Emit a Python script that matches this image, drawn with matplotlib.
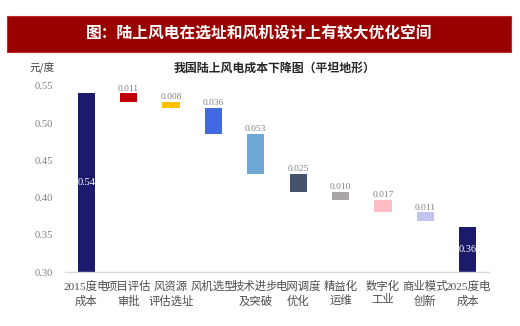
import matplotlib
matplotlib.use("Agg")
import matplotlib.pyplot as plt
from matplotlib.patches import Rectangle

# ---- data ----
categories = ["2015度电\n成本", "项目评估\n审批", "风资源\n评估选址", "风机选型", "技术进步\n及突破",
              "电网调度\n优化", "精益化\n运维", "数字化\n工业", "商业模式\n创新", "2025度电\n成本"]
start_value = 0.54
deltas = [0.011, 0.008, 0.036, 0.053, 0.025, 0.010, 0.017, 0.011]
delta_labels = ["0.011", "0.008", "0.036", "0.053", "0.025", "0.010", "0.017", "0.011"]
end_value = 0.36
yticks = [0.30, 0.35, 0.40, 0.45, 0.50, 0.55]
colors = ["#1c1a6b", "#c00000", "#ffc000", "#4169e1", "#6fa8d4", "#44546a",
          "#aaa6a6", "#ffbcc4", "#c3c3f2", "#1c1a6b"]

FONT = ["Liberation Serif", "Noto Sans CJK SC", "DejaVu Sans"]
CJK = ["Noto Sans CJK SC", "DejaVu Sans"]
plt.rcParams["font.family"] = FONT

fig = plt.figure(figsize=(5.2, 3.26), dpi=100)
fig.patch.set_facecolor("white")

# title banner
fig.patches.append(Rectangle((7 / 520, 1 - 52 / 326), 504 / 520, 36 / 326,
                             transform=fig.transFigure, facecolor="#990000",
                             edgecolor="#c0282d", linewidth=0.8))
fig.text(259 / 520, 1 - 34 / 326, "图：陆上风电在选址和风机设计上有较大优化空间",
         color="white", fontsize=11.3, fontweight="bold", ha="center", va="center",
         family=CJK)
fig.text(275 / 520, 1 - 68 / 326, "我国陆上风电成本下降图（平坦地形）",
         color="#262626", fontsize=8.6, fontweight="bold", ha="center", va="center",
         family=CJK)
fig.text(42 / 520, 1 - 68 / 326, "元/度", color="#404040", fontsize=7.6,
         ha="center", va="center", family=CJK)

ax = fig.add_axes([65 / 520, 1 - 272 / 326, 424 / 520, 186 / 326])
ax.set_xlim(-0.5, len(categories) - 0.5)
ax.set_ylim(0.30, 0.55)

x = list(range(len(categories)))
width = 0.41
base = 0.30

# first bar
ax.bar(x[0], start_value - base, bottom=base, width=width, color=colors[0])
ax.text(x[0], (start_value + base) / 2, f"{start_value:.2f}", color="white",
        ha="center", va="center", fontsize=7.4)

top = start_value
for i, d in enumerate(deltas):
    xi = x[i + 1]
    ax.bar(xi, d, bottom=top - d, width=width, color=colors[i + 1])
    ax.text(xi, top + 0.0012, delta_labels[i], color="#7f7f7f", ha="center",
            va="bottom", fontsize=6.8)
    top -= d

ax.bar(x[-1], end_value - base, bottom=base, width=width, color=colors[-1])
ax.text(x[-1], (end_value + base) / 2, f"{end_value:.2f}", color="white",
        ha="center", va="center", fontsize=7.4)

ax.set_yticks(yticks)
ax.set_yticklabels([f"{v:.2f}" for v in yticks], color="#7f7f7f", fontsize=7.6)
ax.set_xticks(x)
ax.set_xticklabels(categories, color="#4d4d4d", fontsize=8.2, linespacing=1.4)
ax.tick_params(axis="both", length=0)
ax.tick_params(axis="y", pad=8.5)
ax.tick_params(axis="x", pad=6.5)
for s in ["top", "right", "left"]:
    ax.spines[s].set_visible(False)
ax.spines["bottom"].set_color("#d9d9d9")
ax.spines["bottom"].set_linewidth(1.0)

fig.savefig("out.png", dpi=100, facecolor="white")
